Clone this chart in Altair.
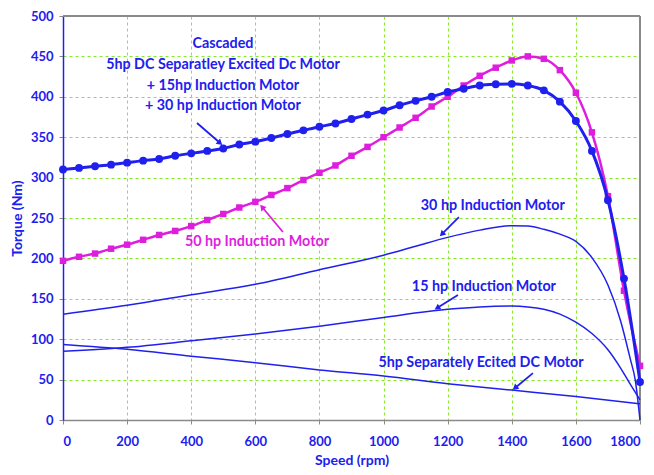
import math
import altair as alt
import pandas as pd

BLUE = "#2020ee"
MAG = "#dd1fdd"
GRID = "#88e82a"
GREY = "#8a8a8a"
FONT = "Lato"

# ---- data ----
speed_mk = [0, 50, 100, 150, 200, 250, 300, 350, 400, 450, 500, 550, 600, 650, 700,
            750, 800, 850, 900, 950, 1000, 1050, 1100, 1150, 1200, 1250, 1300, 1350,
            1400, 1450, 1500, 1550, 1600, 1650, 1700, 1750, 1800]
cascaded = [310, 312, 314, 316, 318.5, 321, 323, 327, 330, 333, 336, 341, 344.5, 349, 354,
            358.5, 363, 367, 372.5, 378, 383, 389.5, 395, 400, 406, 410, 414, 415.5,
            416, 414, 408, 394, 370, 333, 272, 175, 47]
im50 = [197, 202, 206, 212, 217, 223, 229, 234, 240, 247.5, 255, 263, 270, 278.5, 287,
        297, 306, 315, 327, 338, 350, 362, 374, 388, 400, 414, 426, 436,
        445, 450, 447, 433, 405, 356, 277, 160, 67]

speed_30 = [0, 200, 400, 600, 800, 1000, 1100, 1200, 1300, 1400, 1450, 1500, 1550, 1600,
            1650, 1700, 1740, 1770, 1785, 1800]
im30 = [131, 142, 155, 168, 186, 204, 215, 226, 235, 240.5, 240, 236, 230, 221,
        201, 167, 122, 75, 50, 0]

speed_15 = [0, 200, 400, 600, 800, 1000, 1200, 1300, 1400, 1450, 1500, 1550, 1600,
            1650, 1700, 1740, 1770, 1800]
im15 = [85, 90, 98, 106.5, 116, 127, 137, 140, 141, 140, 137, 131, 121,
        107, 87, 64, 44, 25]

speed_dc = [0, 200, 400, 600, 800, 1000, 1200, 1400, 1600, 1800]
dc5 = [93.5, 87.5, 79, 71, 62, 54.5, 45, 37, 29, 20]

x_ticks = [0, 200, 400, 600, 800, 1000, 1200, 1400, 1600, 1800]
y_ticks = [0, 50, 100, 150, 200, 250, 300, 350, 400, 450, 500]

label_text = ["Cascaded", "5hp DC Separatley Excited Dc Motor", "+ 15hp Induction Motor",
              "+ 30 hp Induction Motor", "50 hp Induction Motor", "30 hp Induction Motor",
              "15 hp Induction Motor", "5hp Separately Ecited DC Motor"]
label_x = [499, 499, 499, 499, 605, 1341, 1313, 1304]
label_y = [465, 439, 413, 389, 220, 265, 164.6, 70.5]
label_col = [BLUE, BLUE, BLUE, BLUE, MAG, BLUE, BLUE, BLUE]

arrow_x1 = [418, 686, 1235, 1232, 1466]
arrow_y1 = [367.6, 232.7, 251, 154.7, 58]
arrow_x2 = [490, 621, 1182, 1167, 1410]
arrow_y2 = [342.8, 263.6, 230, 138.6, 39.6]
arrow_col = [BLUE, MAG, BLUE, BLUE, BLUE]

W, H = 577, 404
XMAX, YMAX = 1800, 500

# ---- tables ----
df_mk = pd.DataFrame({"speed": speed_mk, "cas": cascaded, "im50": im50})
df30 = pd.DataFrame({"speed": speed_30, "t": im30})
df15 = pd.DataFrame({"speed": speed_15, "t": im15})
dfdc = pd.DataFrame({"speed": speed_dc, "t": dc5})
df_lab = pd.DataFrame({"x": label_x, "y": label_y, "text": label_text, "c": label_col})
angles = []
for a, b, c, d in zip(arrow_x1, arrow_y1, arrow_x2, arrow_y2):
    dxp = (c - a) * W / XMAX
    dyp = -(d - b) * H / YMAX
    angles.append((math.degrees(math.atan2(dxp, -dyp)) + 360) % 360)
df_arr = pd.DataFrame({"x1": arrow_x1, "y1": arrow_y1, "x2": arrow_x2, "y2": arrow_y2,
                       "c": arrow_col, "ang": angles})

xs = alt.Scale(domain=[0, XMAX], nice=False)
ys = alt.Scale(domain=[0, YMAX], nice=False)

x_axis = alt.Axis(values=x_ticks, format="d", title="Speed (rpm)", labelFont=FONT,
                  labelFontWeight="bold", labelFontSize=13, labelColor=BLUE, labelPadding=11,
                  tickSize=4, tickColor=GREY, domainColor=GREY, domainWidth=1.5, grid=True,
                  gridColor=GRID, gridDash=[3, 3], gridWidth=1, titleFont=FONT,
                  titleFontWeight="bold", titleFontSize=14, titleColor=BLUE, titlePadding=5)
y_axis = alt.Axis(values=y_ticks, format="d", title="Torque (Nm)", labelFont=FONT,
                  labelFontWeight="bold", labelFontSize=13, labelColor=BLUE, labelPadding=6,
                  tickSize=4, tickColor=GREY, domainColor=BLUE, domainWidth=1.5, grid=True,
                  gridColor=GRID, gridDash=[3, 3], gridWidth=1, titleFont=FONT,
                  titleFontWeight="bold", titleFontSize=14, titleColor=BLUE, titlePadding=6)


def X(f):
    return alt.X(f, scale=xs, axis=x_axis, title="Speed (rpm)")


def Y(f):
    return alt.Y(f, scale=ys, axis=y_axis, title="Torque (Nm)")


base = alt.Chart(df_mk)

border = alt.Chart(pd.DataFrame({"v": [YMAX]})).mark_rule(color=GREY, strokeWidth=2).encode(
    y=Y("v:Q"))
border_r = alt.Chart(pd.DataFrame({"v": [XMAX]})).mark_rule(color=GREY, strokeWidth=2).encode(
    x=X("v:Q"))


def thin(df):
    return alt.Chart(df).mark_line(color=BLUE, strokeWidth=1.5, interpolate="monotone").encode(
        x=X("speed:Q"), y=Y("t:Q"))


l30, l15, ldc = thin(df30), thin(df15), thin(dfdc)

mag_line = base.mark_line(color=MAG, strokeWidth=2.5, interpolate="monotone").encode(
    x=X("speed:Q"), y=Y("im50:Q"))
mag_pts = base.mark_point(shape="square", filled=True, color=MAG, size=42, opacity=1).encode(
    x=X("speed:Q"), y=Y("im50:Q"))
cas_line = base.mark_line(color=BLUE, strokeWidth=3, interpolate="monotone").encode(
    x=X("speed:Q"), y=Y("cas:Q"))
cas_pts = base.mark_circle(color=BLUE, size=62, opacity=1).encode(
    x=X("speed:Q"), y=Y("cas:Q"))

labels = alt.Chart(df_lab).mark_text(font=FONT, fontWeight="bold", fontSize=14.3).encode(
    x=X("x:Q"), y=Y("y:Q"),
    text="text:N", color=alt.Color("c:N", scale=None))

arr_lines = alt.Chart(df_arr).mark_rule(strokeWidth=1.8).encode(
    x=X("x1:Q"), y=Y("y1:Q"),
    x2="x2:Q", y2="y2:Q", color=alt.Color("c:N", scale=None))
arr_heads = alt.Chart(df_arr).mark_point(shape="triangle-up", filled=True, size=45, opacity=1).encode(
    x=X("x2:Q"), y=Y("y2:Q"),
    angle=alt.Angle("ang:Q", scale=None), color=alt.Color("c:N", scale=None))

chart = alt.layer(border, border_r, ldc, l15, l30, mag_line, mag_pts,
                  cas_line, cas_pts, arr_lines, arr_heads, labels).properties(
    width=W, height=H,
    autosize=alt.AutoSizeParams(type="none"),
    padding={"left": 55, "top": 8, "right": 6, "bottom": 47},
).configure_view(stroke=None).configure(background="white")

chart.save("out.html", embed_options={"renderer": "svg", "actions": False})
